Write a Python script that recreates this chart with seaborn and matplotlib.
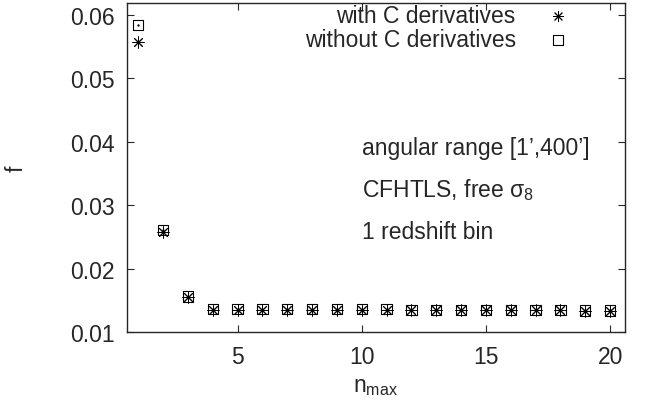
import numpy as np
import pandas as pd
import matplotlib
matplotlib.use("Agg")
import matplotlib.pyplot as plt
import seaborn as sns

# values
n_max = list(range(1, 21))
f_with = [0.0557, 0.0258, 0.0155, 0.0135, 0.0135, 0.0135, 0.0135, 0.0135, 0.0135, 0.0135,
          0.0135, 0.0135, 0.0134, 0.0134, 0.0134, 0.0134, 0.0134, 0.0134, 0.0133, 0.0133]
f_without = [0.0584, 0.0261, 0.0156, 0.0136, 0.0136, 0.0136, 0.0136, 0.0136, 0.0136, 0.0136,
             0.0136, 0.0135, 0.0135, 0.0135, 0.0135, 0.0135, 0.0135, 0.0135, 0.0134, 0.0134]
labels = ["with C derivatives", "without C derivatives"]

sns.set_style("ticks")
plt.rcParams["font.family"] = ["Liberation Sans", "DejaVu Sans"]
plt.rcParams["mathtext.fontset"] = "custom"
plt.rcParams["mathtext.rm"] = "Liberation Sans"
plt.rcParams["mathtext.it"] = "Liberation Sans"

df = pd.DataFrame({"n": n_max, "with": f_with, "without": f_without})

fig = plt.figure(figsize=(6.51, 4.06), dpi=100)
ax = fig.add_axes([127 / 651, 1 - 333 / 406, (625 - 127) / 651, (333 - 4) / 406])

star = (8, 2, 0)
sns.scatterplot(data=df, x="n", y="with", marker=star, s=65, color="black",
                linewidth=0.7, ax=ax, label=labels[0], zorder=3)
sns.scatterplot(data=df, x="n", y="without", marker="s", s=55, facecolors="none",
                edgecolor="black", linewidth=0.8, ax=ax, label=labels[1], zorder=3)
ax.scatter(df["n"], df["without"], marker=".", s=2, color="black", zorder=4)

ax.set_xlim(0.55, 20.6)
ax.set_ylim(0.01, 0.0619)
ax.set_xticks([5, 10, 15, 20])
ax.set_yticks([0.01, 0.02, 0.03, 0.04, 0.05, 0.06])
ax.set_yticklabels(["0.01", "0.02", "0.03", "0.04", "0.05", "0.06"])
ax.tick_params(direction="in", top=True, right=True, labelsize=16.5, length=5, width=0.8, pad=9)
for s in ax.spines.values():
    s.set_linewidth(1.0)

ax.set_xlabel(r"n$_{\mathrm{max}}$", fontsize=16.5, labelpad=5)
ax.set_ylabel("f", fontsize=16.5)
ax.yaxis.set_label_coords(-0.2, 0.5)

tx = 0.472
ax.text(tx, 0.562, "angular range [1\u2019,400\u2019]", transform=ax.transAxes, fontsize=16.5, va="center")
ax.text(tx, 0.435, r"CFHTLS, free $\sigma_8$", transform=ax.transAxes, fontsize=16.5, va="center")
ax.text(tx, 0.304, "1 redshift bin", transform=ax.transAxes, fontsize=16.5, va="center")

leg = ax.legend(loc="upper right", frameon=False, markerfirst=False, fontsize=16.5,
                handletextpad=0.85, borderaxespad=0.0, labelspacing=0.05,
                bbox_to_anchor=(0.93, 1.025), markerscale=0.9)

fig.savefig("out.png", dpi=100)
